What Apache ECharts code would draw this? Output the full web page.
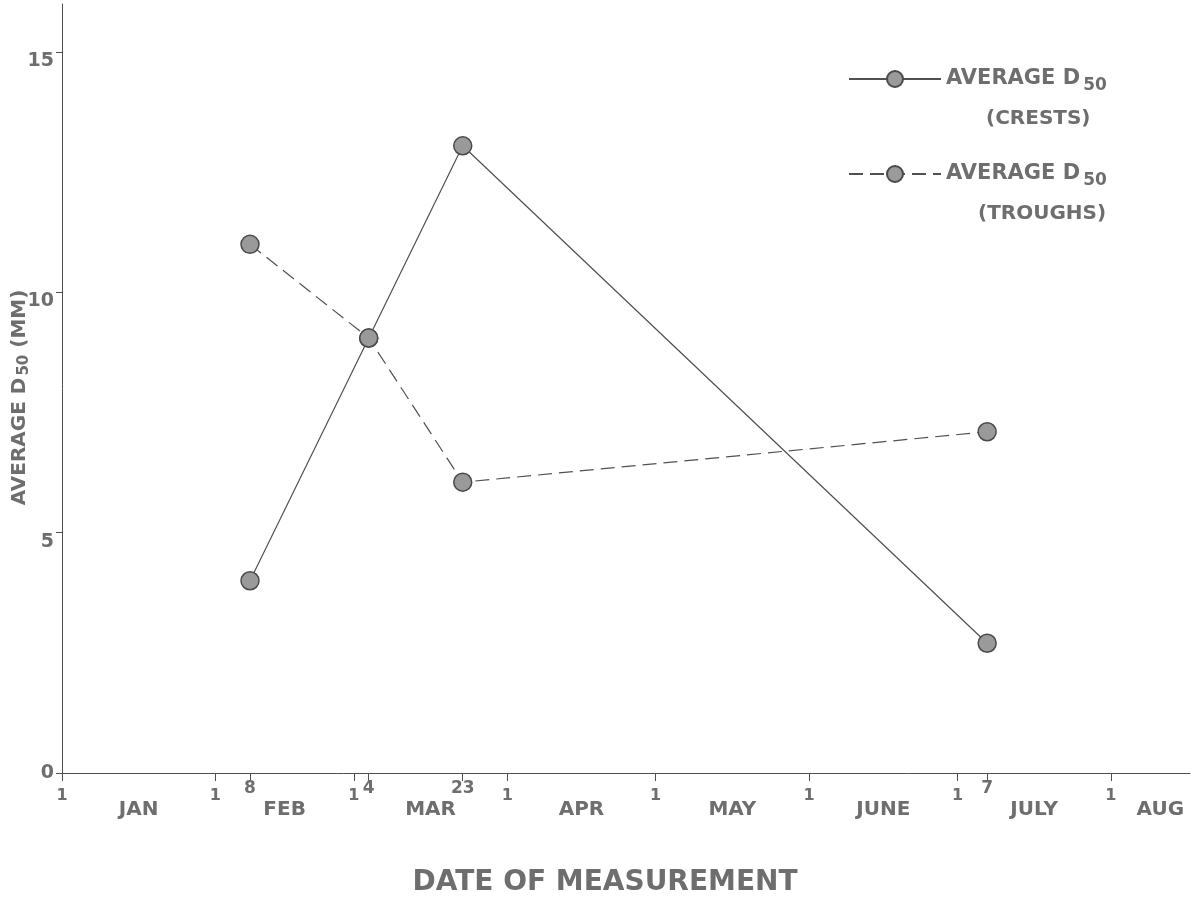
<!DOCTYPE html>
<html>
<head>
<meta charset="utf-8">
<script src="https://cdn.jsdelivr.net/npm/echarts@6/dist/echarts.min.js"></script>
<style>html,body{margin:0;padding:0;background:#fff}#c{width:1197px;height:901px}</style>
</head>
<body>
<div id="c"></div>
<script>
// Day of year (Jan 1 = 0)
const monthStarts = [0, 31, 59, 90, 120, 151, 181, 212];
const monthNames = ['JAN', 'FEB', 'MAR', 'APR', 'MAY', 'JUNE', 'JULY', 'AUG'];
const measureDays = [38, 62, 81, 187];          // Feb 8, Mar 4, Mar 23, Jul 7
const measureLabels = ['8', '4', '23', '7'];
const crests = [4.0, 9.05, 13.05, 2.7];
const troughs = [11.0, 9.05, 6.05, 7.1];
const yTicks = [0, 5, 10, 15];

const TXT = '#6e6e6e';
const LINE = '#505050';
const FONT = 'DejaVu Sans';

const monthMid = monthStarts.map((d, i) => i < monthStarts.length - 1 ? (d + monthStarts[i + 1]) / 2 : d + 10);
function lookup(vals, labels, v) {
  for (let i = 0; i < vals.length; i++) if (Math.abs(vals[i] - v) < 1e-6) return labels[i];
  return '';
}
const X_MAX = 228;
const baseX = { type: 'value', min: 0, max: X_MAX, position: 'bottom', offset: 0, splitLine: { show: false } };

const chart = echarts.init(document.getElementById('c'), null, { renderer: 'canvas' });
const legendRich = {
  a: { fontFamily: FONT, fontWeight: 'bold', fontSize: 21, color: TXT, lineHeight: 40 },
  s: { fontFamily: FONT, fontWeight: 'bold', fontSize: 17, color: TXT, lineHeight: 40, padding: [13, 0, 0, 3] },
  b: { fontFamily: FONT, fontWeight: 'bold', fontSize: 20, color: TXT, lineHeight: 40, padding: [0, 0, 0, 40] },
  t: { fontFamily: FONT, fontWeight: 'bold', fontSize: 20, color: TXT, lineHeight: 40, padding: [0, 0, 0, 32] },
  e: { fontSize: 18, lineHeight: 40 }
};
const option = {
  animation: false,
  backgroundColor: '#ffffff',
  grid: { left: 62, right: 7, top: 4, bottom: 128, containLabel: false, outerBoundsMode: 'none' },
  xAxis: [
    Object.assign({}, baseX, {
      axisLine: { show: true, lineStyle: { color: LINE, width: 1 } },
      axisTick: { show: true, customValues: monthStarts.concat(measureDays), length: 8, lineStyle: { color: LINE } },
      axisLabel: { customValues: monthStarts, formatter: () => '1', margin: 15, fontFamily: FONT, fontWeight: 'bold', fontSize: 16, color: TXT, showMinLabel: true, showMaxLabel: true },
      name: 'DATE OF MEASUREMENT', nameLocation: 'middle', nameGap: 96, nameMoveOverlap: false,
      nameTextStyle: { fontFamily: FONT, fontWeight: 'bold', fontSize: 28, color: TXT, padding: [0, 42, 0, 0] }
    }),
    Object.assign({}, baseX, {
      axisLine: { show: false }, axisTick: { show: false },
      axisLabel: { customValues: measureDays, formatter: v => lookup(measureDays, measureLabels, v), margin: 7, fontFamily: FONT, fontWeight: 'bold', fontSize: 17, color: TXT, showMinLabel: true, showMaxLabel: true }
    }),
    Object.assign({}, baseX, {
      axisLine: { show: false }, axisTick: { show: false },
      axisLabel: { customValues: monthMid, formatter: v => lookup(monthMid, monthNames, v), margin: 27, fontFamily: FONT, fontWeight: 'bold', fontSize: 20, color: TXT, showMinLabel: true, showMaxLabel: true }
    })
  ],
  yAxis: {
    type: 'value', min: 0, max: 16, interval: 5,
    splitLine: { show: false },
    axisLine: { show: true, lineStyle: { color: LINE, width: 1 } },
    axisTick: { show: true, customValues: yTicks, length: 6, lineStyle: { color: LINE } },
    axisLabel: {
      customValues: yTicks, margin: 8,
      formatter: v => v === 0 ? '{z|0}' : '{d|' + v + '}',
      rich: {
        z: { fontFamily: FONT, fontWeight: 'bold', fontSize: 19, color: TXT },
        d: { fontFamily: FONT, fontWeight: 'bold', fontSize: 19, color: TXT, padding: [18, 0, 0, 0] }
      }
    },
    name: '{a|AVERAGE D}{s|50}{a| (MM)}', nameLocation: 'middle', nameGap: 30, nameMoveOverlap: false,
    nameTextStyle: {
      padding: [0, 18, 0, 0],
      rich: {
        a: { fontFamily: FONT, fontWeight: 'bold', fontSize: 20, color: TXT },
        s: { fontFamily: FONT, fontWeight: 'bold', fontSize: 15, color: TXT, padding: [9, 0, 0, 2] }
      }
    }
  },
  legend: [
    {
      data: ['crests'], left: 848, top: 30, orient: 'vertical', padding: 0,
      itemWidth: 92, itemHeight: 20,
      formatter: () => '{e| }\n{a|AVERAGE D}{s|50}\n{b|(CRESTS)}',
      textStyle: { rich: legendRich }
    },
    {
      data: ['troughs'], left: 848, top: 125, orient: 'vertical', padding: 0,
      itemWidth: 92, itemHeight: 20,
      formatter: () => '{e| }\n{a|AVERAGE D}{s|50}\n{t|(TROUGHS)}',
      textStyle: { rich: legendRich }
    }
  ],
  series: [
    {
      name: 'crests', type: 'line', xAxisIndex: 0,
      data: measureDays.map((d, i) => [d, crests[i]]),
      symbol: 'circle', symbolSize: 18,
      lineStyle: { color: LINE, width: 1.2, type: 'solid' },
      itemStyle: { color: '#9a9a9a', borderColor: '#4a4a4a', borderWidth: 1.5 }
    },
    {
      name: 'troughs', type: 'line', xAxisIndex: 0,
      data: measureDays.map((d, i) => [d, troughs[i]]),
      symbol: 'circle', symbolSize: 18,
      lineStyle: { color: LINE, width: 1.2, type: [14, 7] },
      itemStyle: { color: '#9a9a9a', borderColor: '#4a4a4a', borderWidth: 1.5 }
    }
  ]
};
chart.setOption(option);
</script>
</body>
</html>
